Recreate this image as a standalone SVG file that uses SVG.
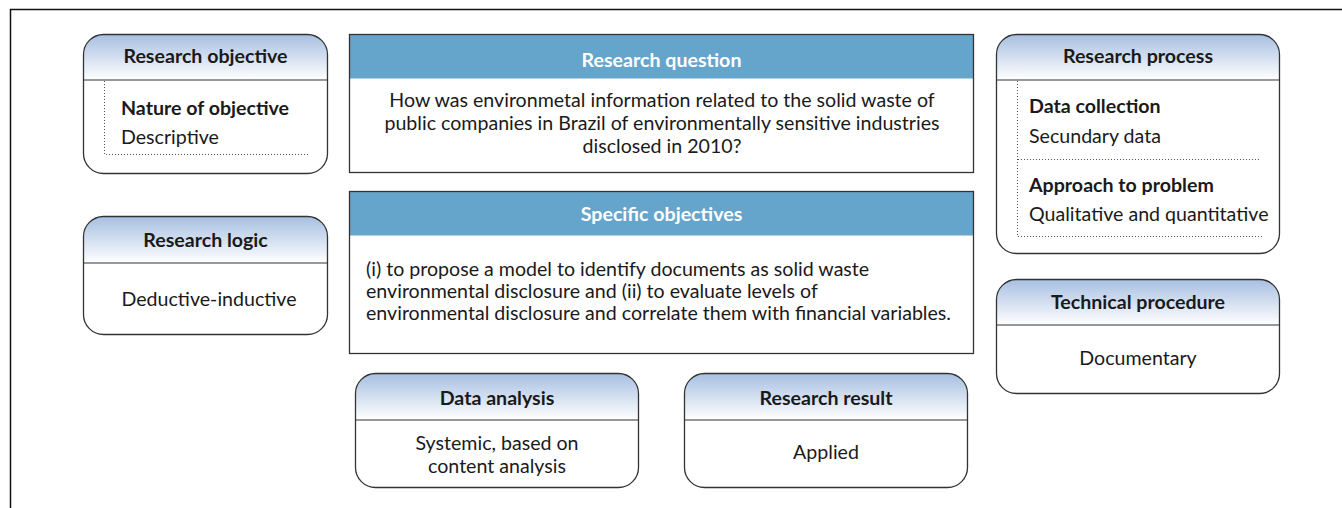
<svg xmlns="http://www.w3.org/2000/svg" width="1342" height="508" viewBox="0 0 1342 508">
  <defs>
    <linearGradient id="hdr" x1="0" y1="0" x2="0" y2="1">
      <stop offset="0" stop-color="#a7bfe1"/>
      <stop offset="1" stop-color="#ffffff"/>
    </linearGradient>
    <style>
      .frame { stroke: #111; stroke-width: 1.5; fill: none; }
      .box { fill: none; stroke: #333; stroke-width: 1.3; }
      .bg { fill: #fff; }
      .head { fill: url(#hdr); }
      .bar { fill: #65a5cc; }
      .div { stroke: #333; stroke-width: 1.2; }
      .dot { stroke: #555; stroke-width: 1; stroke-dasharray: 1 2; fill: none; }
      text { font-family: "Lato", "Open Sans", sans-serif; fill: #1a1a1a; font-size: 19.6px; }
      .t { font-weight: bold; }
      .w { font-weight: bold; fill: #fff; }
      .c { text-anchor: middle; }
    </style>
  </defs>

  <!-- page frame -->
  <path class="frame" d="M10.5 508 V9.5 H1342"/>

  <!-- Research objective -->
  <g id="research-objective">
    <rect class="bg" x="83.5" y="34.5" width="244" height="139" rx="20"/>
    <path class="head" d="M83.5 80 V54.5 A20 20 0 0 1 103.5 34.5 H307.5 A20 20 0 0 1 327.5 54.5 V80 Z"/>
    <line class="div" x1="83.5" y1="80" x2="327.5" y2="80"/>
    <rect class="box" x="83.5" y="34.5" width="244" height="139" rx="20"/>
    <path class="dot" d="M104.5 81 V154.5 H308"/>
    <text class="t c" x="205.5" y="63">Research objective</text>
    <text class="t" x="121" y="115">Nature of objective</text>
    <text x="121" y="144">Descriptive</text>
  </g>

  <!-- Research logic -->
  <g id="research-logic">
    <rect class="bg" x="83.5" y="216.5" width="244" height="118" rx="20"/>
    <path class="head" d="M83.5 263 V236.5 A20 20 0 0 1 103.5 216.5 H307.5 A20 20 0 0 1 327.5 236.5 V263 Z"/>
    <line class="div" x1="83.5" y1="263" x2="327.5" y2="263"/>
    <rect class="box" x="83.5" y="216.5" width="244" height="118" rx="20"/>
    <text class="t c" x="205.5" y="247">Research logic</text>
    <text class="c" x="209" y="306">Deductive-inductive</text>
  </g>

  <!-- Research question -->
  <g id="research-question">
    <rect class="bg" x="349.5" y="34.5" width="624" height="138"/>
    <rect class="bar" x="349.5" y="34.5" width="624" height="44"/>
    <rect class="box" x="349.5" y="34.5" width="624" height="138"/>
    <text class="w c" x="661.5" y="67">Research question</text>
    <text class="c" x="662" y="107">How was environmetal information related to the solid waste of</text>
    <text class="c" x="662" y="130">public companies in Brazil of environmentally sensitive industries</text>
    <text class="c" x="662" y="153">disclosed in 2010?</text>
  </g>

  <!-- Specific objectives -->
  <g id="specific-objectives">
    <rect class="bg" x="349.5" y="191.5" width="624" height="162"/>
    <rect class="bar" x="349.5" y="191.5" width="624" height="44"/>
    <rect class="box" x="349.5" y="191.5" width="624" height="162"/>
    <text class="w c" x="661.5" y="221">Specific objectives</text>
    <text x="366" y="276">(i) to propose a model to identify documents as solid waste</text>
    <text x="366" y="298">environmental disclosure and (ii) to evaluate levels of</text>
    <text x="366" y="320">environmental disclosure and correlate them with financial variables.</text>
  </g>

  <!-- Research process -->
  <g id="research-process">
    <rect class="bg" x="996.5" y="34.5" width="283" height="219" rx="20"/>
    <path class="head" d="M996.5 80 V54.5 A20 20 0 0 1 1016.5 34.5 H1259.5 A20 20 0 0 1 1279.5 54.5 V80 Z"/>
    <line class="div" x1="996.5" y1="80" x2="1279.5" y2="80"/>
    <rect class="box" x="996.5" y="34.5" width="283" height="219" rx="20"/>
    <path class="dot" d="M1017.5 81 V236.5 H1262"/>
    <line class="dot" x1="1018" y1="159.5" x2="1260" y2="159.5"/>
    <text class="t c" x="1138" y="63">Research process</text>
    <text class="t" x="1029" y="113">Data collection</text>
    <text x="1029" y="143">Secundary data</text>
    <text class="t" x="1029" y="192">Approach to problem</text>
    <text x="1029" y="221">Qualitative and quantitative</text>
  </g>

  <!-- Technical procedure -->
  <g id="technical-procedure">
    <rect class="bg" x="996.5" y="279.5" width="283" height="114" rx="20"/>
    <path class="head" d="M996.5 325 V299.5 A20 20 0 0 1 1016.5 279.5 H1259.5 A20 20 0 0 1 1279.5 299.5 V325 Z"/>
    <line class="div" x1="996.5" y1="325" x2="1279.5" y2="325"/>
    <rect class="box" x="996.5" y="279.5" width="283" height="114" rx="20"/>
    <text class="t c" x="1138" y="309">Technical procedure</text>
    <text class="c" x="1138" y="365">Documentary</text>
  </g>

  <!-- Data analysis -->
  <g id="data-analysis">
    <rect class="bg" x="355.5" y="373.5" width="283" height="114" rx="20"/>
    <path class="head" d="M355.5 420 V393.5 A20 20 0 0 1 375.5 373.5 H618.5 A20 20 0 0 1 638.5 393.5 V420 Z"/>
    <line class="div" x1="355.5" y1="420" x2="638.5" y2="420"/>
    <rect class="box" x="355.5" y="373.5" width="283" height="114" rx="20"/>
    <text class="t c" x="497" y="405">Data analysis</text>
    <text class="c" x="497" y="450">Systemic, based on</text>
    <text class="c" x="497" y="473">content analysis</text>
  </g>

  <!-- Research result -->
  <g id="research-result">
    <rect class="bg" x="684.5" y="373.5" width="283" height="114" rx="20"/>
    <path class="head" d="M684.5 420 V393.5 A20 20 0 0 1 704.5 373.5 H947.5 A20 20 0 0 1 967.5 393.5 V420 Z"/>
    <line class="div" x1="684.5" y1="420" x2="967.5" y2="420"/>
    <rect class="box" x="684.5" y="373.5" width="283" height="114" rx="20"/>
    <text class="t c" x="826" y="405">Research result</text>
    <text class="c" x="826" y="459">Applied</text>
  </g>

  <!-- no connectors in this layout -->
  <g id="connectors"/>
</svg>
